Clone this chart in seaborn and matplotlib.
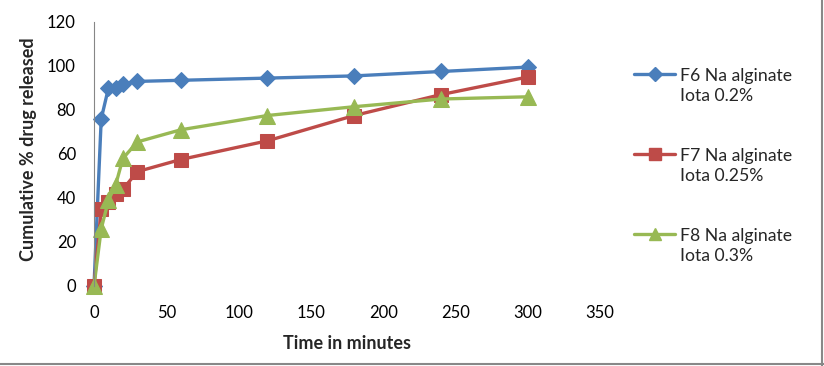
import matplotlib
matplotlib.use("Agg")
import matplotlib.pyplot as plt
import seaborn as sns
import pandas as pd
from matplotlib.lines import Line2D

time_min = [0, 5, 10, 15, 20, 30, 60, 120, 180, 240, 300]
f6 = [0, 76, 90, 90, 92, 93, 93.5, 94.5, 95.5, 97.5, 99.5]
f7 = [0, 35, 38, 42, 44, 52, 57.5, 66, 77.5, 87, 95]
f8 = [0, 26, 39, 46, 58, 65.5, 71, 77.5, 81.5, 85, 86]
series_names = ["F6 Na alginate\nIota 0.2%", "F7 Na alginate\nIota 0.25%", "F8 Na alginate\nIota 0.3%"]
colors = ["#4A7EBB", "#BE4B48", "#98B954"]
markers = ["D", "s", "^"]
marker_sizes = [8.5, 10.5, 11]
x_ticks = [0, 50, 100, 150, 200, 250, 300, 350]
y_ticks = [0, 20, 40, 60, 80, 100, 120]

sns.set_style("white")
plt.rcParams["font.family"] = ["Lato", "DejaVu Sans"]

df = pd.concat([
    pd.DataFrame({"t": time_min, "v": vals, "s": name})
    for name, vals in zip(series_names, [f6, f7, f8])
])

fig = plt.figure(figsize=(8.24, 3.66), dpi=100)
ax = fig.add_axes([94/824, 1-286/366, (600-94)/824, (286-22)/366])

handles = []
for name, c, m, ms in zip(series_names, colors, markers, marker_sizes):
    sub = df[df["s"] == name]
    sns.lineplot(data=sub, x="t", y="v", ax=ax, color=c, marker=m, markersize=ms,
                 markeredgecolor=c, linewidth=2.4, legend=False, clip_on=False)
    handles.append(Line2D([], [], color=c, marker=m, markersize=ms*0.85, markeredgecolor=c, linewidth=2.4))

ax.set_xlim(0, 350)
ax.set_ylim(0, 120)
ax.set_xticks(x_ticks)
ax.set_yticks(y_ticks)
ax.tick_params(axis="both", labelsize=12, colors="#868686", labelcolor="black", length=5, width=1, direction="out")
ax.tick_params(axis="x", pad=9)
ax.tick_params(axis="y", pad=8)
for s in ["top", "right", "bottom"]:
    ax.spines[s].set_visible(False)
ax.spines["left"].set_color("#868686")
ax.set_xlabel("Time in minutes", fontsize=13, fontweight="bold", labelpad=10)
ax.set_ylabel("Cumulative % drug released", fontsize=13, fontweight="bold")
ax.yaxis.set_label_coords(-0.113, 0.52)

leg = fig.legend(handles, series_names, loc="upper left", bbox_to_anchor=(634/824, 1-68/366),
                 frameon=False, fontsize=12.7, labelspacing=2.5, handlelength=2.33, handletextpad=0.25,
                 borderpad=0, borderaxespad=0)
for t in leg.get_texts():
    t.set_linespacing(1.3)
for col in leg._legend_handle_box.get_children():
    for row in col.get_children():
        row.align = "top"

fig.add_artist(Line2D([822/824, 822/824], [0, 1], color="#888888", linewidth=1.5, transform=fig.transFigure))
fig.add_artist(Line2D([0, 1], [2/366, 2/366], color="#888888", linewidth=1.5, transform=fig.transFigure))

fig.savefig("out.png", dpi=100)
